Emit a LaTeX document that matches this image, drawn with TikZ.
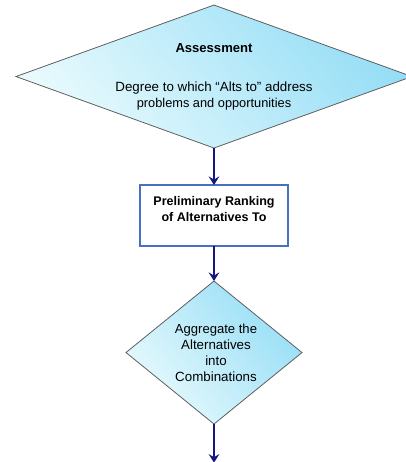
\documentclass[tikz,border=0pt]{standalone}
\usepackage{fontspec}
\setmainfont{Liberation Sans}
\usepackage{tikz}
\usetikzlibrary{arrows.meta, shapes.geometric}
\usetikzlibrary{positioning}
\definecolor{losange1}{RGB}{150,222,246}
\definecolor{losange2}{RGB}{232,250,253}
\definecolor{bordure}{RGB}{95,95,95}
\definecolor{cadre}{RGB}{72,112,192}
\definecolor{marine}{RGB}{22,22,128}
\tikzstyle{losange} = [diamond,draw=bordure,line width=0.6pt,outer sep=0pt,shading=axis,top color=losange1,bottom color=losange2,shading angle=-50]
\tikzstyle{boite} = [rectangle,draw=cadre,line width=1.4pt,fill=white,outer sep=0pt]
\tikzstyle{fleche} = [->,>={Stealth[length=6.5pt,width=8pt,inset=2.4pt]},line width=2.2pt,color=marine]

\begin{document}
\begin{tikzpicture}

	\useasboundingbox (0,0) rectangle (304.5pt,-346.5pt);

	\node[losange,minimum width=297pt,minimum height=107.25pt] (Evaluation) at (160.5pt,-57.4pt) {};
	\node (Titre) at ([yshift=21.4pt]Evaluation.center) {\fontsize{9.8}{11}\selectfont\textbf{Assessment}};
	\node[align=center] (Degre) at ([yshift=-14.25pt]Evaluation.center) {\fontsize{10}{11}\selectfont Degree to which “Alts to” address\\ \fontsize{9.6}{11}\selectfont problems and opportunities};

	\node[boite,minimum width=111pt,minimum height=45.75pt,below=27.75pt of Evaluation] (Classement) {};
	\node[align=center] (Prelim) at ([yshift=4.9pt]Classement.center) {\fontsize{9.4}{12}\selectfont\textbf{Preliminary Ranking}\\ \fontsize{9.4}{12}\selectfont\textbf{of Alternatives To}};

	\node[losange,minimum width=132pt,minimum height=107.25pt,below=26.25pt of Classement] (Agreg) {};
	\node[align=center] (Combi) at ([xshift=1.5pt]Agreg.center) {\fontsize{9.8}{14}\selectfont Aggregate the\\ Alternatives\\ into\\ Combinations};

	\coordinate[below=29pt of Agreg] (Fin);

	%% Fleches
	\draw[fleche] (Evaluation) -- (Classement);
	\draw[fleche] (Classement) -- (Agreg);
	\draw[fleche] (Agreg) -- (Fin);

\end{tikzpicture}
\end{document}
